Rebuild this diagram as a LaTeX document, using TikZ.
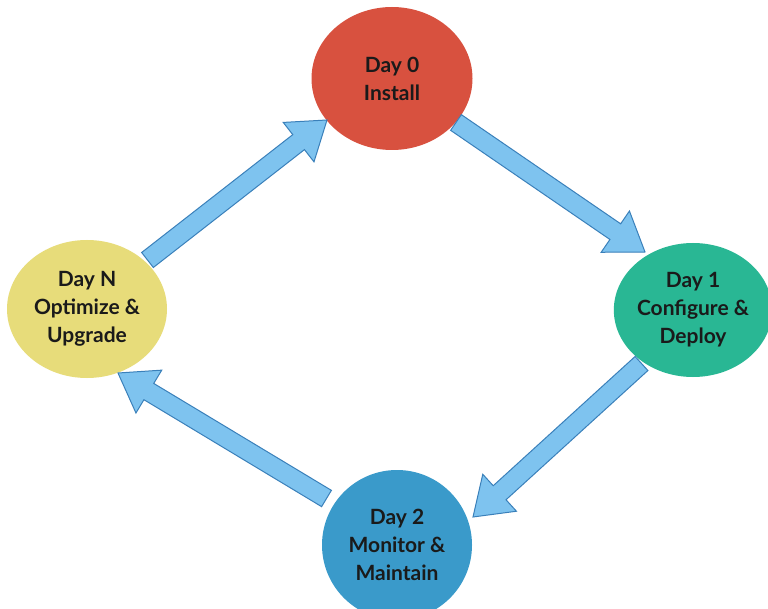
\documentclass[tikz,border=0pt]{standalone}
\usepackage{fontspec}
\setmainfont{Lato}
\usetikzlibrary{shapes.geometric,calc}

\definecolor{dayzero}{HTML}{D8513F}
\definecolor{dayone}{HTML}{29B794}
\definecolor{daytwo}{HTML}{3A9ACA}
\definecolor{dayn}{HTML}{E7DC7A}
\definecolor{flowfill}{HTML}{7EC3EF}
\definecolor{flowline}{HTML}{3A80BA}
\definecolor{labelink}{HTML}{1A1A1A}

\tikzset{
  phase/.style={ellipse, draw=none, inner sep=0pt, align=center,
    text=labelink, font=\bfseries\fontsize{21}{28}\selectfont},
  flow/.style={fill=flowfill, draw=flowline, line width=1pt, line join=miter}
}

% block arrow from a tail coordinate to a tip coordinate
\newcommand\fatarrow[2]{%
  \coordinate (#1-hb) at ($(#2)!36pt!(#1)$);
  \draw[flow] ($(#1)!9.5pt!90:(#2)$) -- ($(#1-hb)!9.5pt!90:(#2)$)
    -- ($(#1-hb)!25pt!90:(#2)$) -- (#2) -- ($(#1-hb)!25pt!-90:(#2)$)
    -- ($(#1-hb)!9.5pt!-90:(#2)$) -- ($(#1)!9.5pt!-90:(#2)$) -- cycle;}

\begin{document}
\begin{tikzpicture}[x=1pt,y=-1pt]
  \useasboundingbox[fill=white] (0,0) rectangle (768,609);

  % the four phases
  \node[phase, fill=dayzero, minimum width=161pt, minimum height=143pt] (d0) at (392,78.5) {Day 0\\Install};
  \node[phase, fill=dayone, minimum width=156pt, minimum height=134pt] (d1) at (693,310) {Day 1\\Configure \&\\Deploy};
  \node[phase, fill=daytwo, minimum width=150pt, minimum height=150pt] (d2) at (397,545) {Day 2\\Monitor \&\\Maintain};
  \node[phase, fill=dayn, minimum width=160pt, minimum height=138pt] (dn) at (87,309) {Day N\\Optimize \&\\Upgrade};

  % arrow ends
  \coordinate (a1) at (456,122.5);   \coordinate (b1) at (645,252);
  \coordinate (a2) at (641.5,363.5); \coordinate (b2) at (473,517);
  \coordinate (a3) at (326.5,498.5); \coordinate (b3) at (118,373);
  \coordinate (a4) at (147.5,260);   \coordinate (b4) at (327,120);

  \fatarrow{a1}{b1}
  \fatarrow{a2}{b2}
  \fatarrow{a3}{b3}
  \fatarrow{a4}{b4}
\end{tikzpicture}
\end{document}
